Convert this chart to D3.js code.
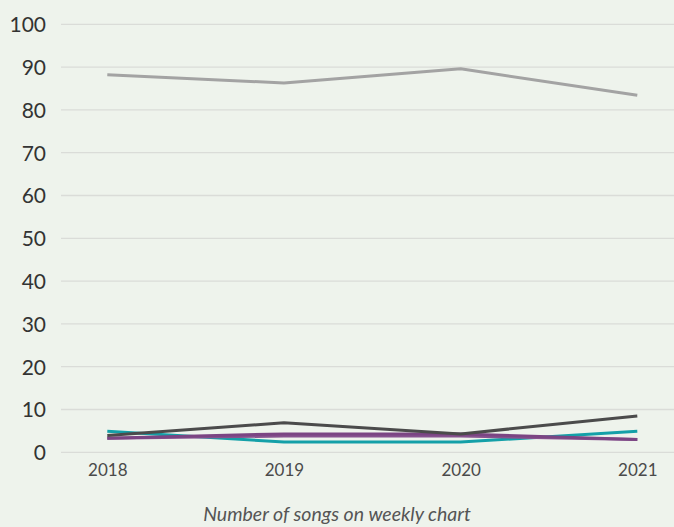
<!DOCTYPE html>
<html>
<head>
<meta charset="utf-8">
<script src="https://cdn.jsdelivr.net/npm/d3@7"></script>
<style>
  html, body { margin: 0; padding: 0; background: #eef3ec; }
  svg { display: block; }
</style>
</head>
<body>
<svg id="chart" width="674" height="527"></svg>
<script>
// Chart data
const years = ["2018", "2019", "2020", "2021"];
const yTicks = [0, 10, 20, 30, 40, 50, 60, 70, 80, 90, 100];
const seriesLightGrey = [88.2, 86.3, 89.6, 83.4];
const seriesDarkGrey = [3.9, 6.9, 4.3, 8.5];
const seriesTeal = [4.9, 2.4, 2.4, 4.9];
const seriesPurpleA = [3.3, 4.3, 4.3, 3.0];
const seriesPurpleB = [3.3, 3.8, 3.8, 3.0];
const axisTitle = "Number of songs on weekly chart";

const series = [
  { values: seriesLightGrey, color: "#a3a3a3" },
  { values: seriesTeal, color: "#14a0a8" },
  { values: seriesPurpleB, color: "#87538f" },
  { values: seriesPurpleA, color: "#7b4583" },
  { values: seriesDarkGrey, color: "#4b4b4b" }
];

const svg = d3.select("#chart");
const plot = { left: 61, right: 674, top: 24.3, bottom: 452.3 };

const x = d3.scalePoint().domain(years).range([107.3, 637.3]);
const y = d3.scaleLinear().domain([0, 100]).range([plot.bottom, plot.top]);

const font = "'Lato', 'Open Sans', sans-serif";

// Horizontal gridlines
svg.append("g").selectAll("line").data(yTicks).join("line")
  .attr("x1", plot.left).attr("x2", plot.right)
  .attr("y1", d => y(d)).attr("y2", d => y(d))
  .attr("stroke", "#dadcd8").attr("stroke-width", 1.3);

// Y axis labels
const yAxis = d3.axisLeft(y).tickValues(yTicks).tickSize(0).tickPadding(0);
const yg = svg.append("g").attr("transform", "translate(46,0)").call(yAxis);
yg.select(".domain").remove();
yg.selectAll("text")
  .attr("font-family", font).attr("font-size", 21).attr("fill", "#333")
  .attr("dy", "0.35em");

// X axis labels
const xAxis = d3.axisBottom(x).tickSize(0).tickPadding(0);
const xg = svg.append("g").attr("transform", "translate(0,464)").call(xAxis);
xg.select(".domain").remove();
xg.selectAll("text")
  .attr("font-family", font).attr("font-size", 17).attr("fill", "#4a4a4a")
  .attr("dy", "0.71em");

// Axis title
svg.append("text")
  .attr("x", 337).attr("y", 521)
  .attr("text-anchor", "middle")
  .attr("font-family", font).attr("font-style", "italic")
  .attr("font-size", 19.5).attr("fill", "#555")
  .text(axisTitle);

// Lines
const line = d3.line().x((d, i) => x(years[i])).y(d => y(d));
svg.append("g").selectAll("path").data(series).join("path")
  .attr("d", d => line(d.values))
  .attr("fill", "none")
  .attr("stroke", d => d.color)
  .attr("stroke-width", 3)
  .attr("stroke-linejoin", "round");
</script>
</body>
</html>
